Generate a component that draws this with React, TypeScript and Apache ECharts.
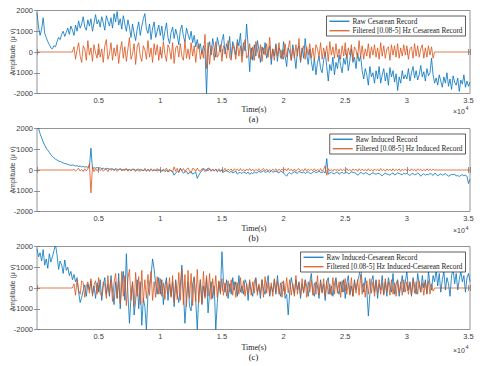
import React, { useEffect, useRef } from "react";
import * as echarts from "echarts";

// One plotted point every SAMPLE_STEP samples (x axis is in samples, shown ×10^4)
const SAMPLE_STEP = 125;
const X_MAX = 35120;
const X_INTERVAL = 5000;
const Y_MIN = -2000;
const Y_MAX = 2000;
const Y_INTERVAL = 1000;

const rawCesarean = [
  1900, 1200, 800, 1100, 1650, 900, 700, 500, 350, 200, 150, 300, 250, 500, 700, 600, 850, 1000, 750, 950,
  1150, 850, 1250, 1050, 800, 1300, 1000, 1500, 1150, 1350, 1700, 1200, 1050, 1550, 1250, 1600, 1000, 1400, 1800, 1350,
  1550, 1200, 1700, 1400, 1050, 1750, 1500, 1250, 1650, 1150, 1850, 1450, 1950, 1300, 1600, 1100, 1750, 1350, 1000, 1550,
  1200, 700, 1350, 900, 550, 1100, 1450, 800, 1250, 1600, 1850, 1100, 900, 1350, 600, 1150, 1450, 700, 1000, 1300,
  800, 1250, 550, 1000, 1400, 700, 400, 950, 1200, 650, 1100, 800, 350, 1050, 1300, 750, 500, 1150, 850, 600,
  1000, 450, 800, 250, 600, 150, 400, -100, 300, 50, -2000, 100, 500, -150, 650, 200, -250, 700, 350, 0,
  550, 850, -100, 400, 100, 750, -300, 500, 250, -150, 600, 300, 900, -200, 450, 50, 1350, 300, -950, 200,
  -400, 350, -200, 550, 100, -500, 250, -100, 450, -300, 0, 300, -600, 150, -200, 400, -450, 200, 50, -350,
  500, -200, -700, 200, 0, -400, 350, -150, -800, 100, 300, -500, 200, -300, 650, -100, -600, 150, -450, -900,
  -300, -1100, -500, -200, -800, -1000, -400, 0, -700, -1400, -600, -900, -250, -1100, -500, -800, -150, -650, -1000, -300,
  -600, -100, -900, -400, 150, -500, -250, -800, -50, -450, -200, -900, -1300, -800, -1100, -1600, -700, -1200, -1000, -1500,
  -900, -1300, -700, -1500, -1100, -800, -1400, -1000, -1600, -750, -1200, -900, -1450, -1050, -1850, -1200, -1500, -900, -1300, -1100,
  -1300, -800, -1400, -1000, -700, -1250, -900, -1350, -1100, -650, -1200, -950, -1400, -800, -1150, -1000, -300, -1100, -1500, -1250,
  -1600, -1100, -1400, -1700, -1200, -1500, -1000, -1650, -1300, -1800, -1150, -1450, -1600, -1250, -1900, -1350, -1550, -1100, -1700, -1400,
  -1650, -1450,
];

const filteredCesarean = [
  0, 0, 0, 0, 0, 0, 0, 0, 0, 0, 0, 0, 0, 0, 0, 0, 0, 0, 0, 0,
  0, 0, 0, 0, 250, -350, 100, 450, -200, -500, 300, 150, -400, 550, -150, 200, -450, 350, -50, -300,
  400, -250, 150, -500, 300, 600, -350, -100, 450, -400, 200, -200, 350, -550, 100, 500, -300, 250, -450, 150,
  700, -350, -100, 400, -600, 250, 450, -200, -450, 300, 100, -350, 550, -250, 200, -500, 400, -150, 350, -400,
  250, -300, 500, -100, -450, 350, 150, -350, 450, -550, 200, 300, -250, 400, -200, -400, 550, -300, 150, -350,
  450, -200, 300, -500, 250, 400, -350, 100, -300, 850, -800, 450, -600, 300, 200, -400, 500, -250, -100, 350,
  -450, 300, 200, -300, 550, -250, -400, 350, 100, -350, 450, -200, 300, -500, 200, 600, -300, -150, 400, -350,
  250, -400, 500, 100, -300, 350, -450, 200, -150, 400, -250, 700, -350, 150, -400, 300, -200, 450, -300, 100,
  -350, 400, -250, 200, 550, -400, 150, -300, 350, -200, 650, -450, 100, 300, -350, 250, -150, 400, -300, 200,
  -400, 350, 150, -250, 450, -350, 200, -200, 300, -450, 500, -150, 250, -300, 400, -250, 150, -350, 300, -200,
  450, -300, 200, -150, 350, -400, 250, 100, -300, 550, -250, 300, -350, 150, -200, 400, -300, 250, -150, 350,
  -250, 200, -350, 450, -200, 300, -300, 150, 250, -400, 350, -150, 300, -250, 400, -300, 200, -200, 350, -150,
  300, -350, 150, 250, -300, 400, -200, 300, -250, 150, 350, -300, 200, -250, 300, -150, 250, -300, 0, 0,
  0, 0, 0, 0, 0, 0, 0, 0, 0, 0, 0, 0, 0, 0, 0, 0, 0, 0, 0, 0,
  0, 0,
];

const rawInduced = [
  2300, 2000, 1750, 1550, 1350, 1200, 1050, 950, 850, 740, 650, 590, 520, 480, 430, 410, 380, 340, 310, 300,
  270, 250, 220, 240, 230, 190, 210, 170, 190, 150, 170, 140, 160, 130, 150, 1050, 60, 110, 90, 120,
  80, 110, 60, 90, 40, 80, 70, 30, 60, 50, 20, 60, 40, 10, 50, 30, -10, 40, 20, 0,
  30, -20, 20, 40, -10, 10, -40, 30, 0, -30, 20, -60, 10, -20, 30, -40, 0, -10, -50, 20,
  -20, -60, 0, -80, -30, -100, -40, -20, -80, -250, -150, -60, -100, 80, -50, -150, -100, -60, -200, -120,
  -80, -200, -150, -100, -400, -250, -120, -50, 80, 20, -50, 100, 40, -60, 20, -30, 40, -90, -20, -60,
  -20, -110, -50, -30, -80, -120, -60, -150, -100, -60, -200, -130, -120, -170, -90, -140, -170, -100, -210, -130,
  -180, -90, -140, -130, -60, -110, -80, -40, -110, -90, -50, -120, -30, -100, -80, -60, -100, -140, -50, -90,
  -150, -220, -300, -160, -120, -200, -140, -80, -130, -160, -60, -110, -140, -90, -170, -120, -90, -150, -170, -100,
  -70, -130, -90, -60, -110, -120, -80, -140, 550, -200, -150, -100, -170, -180, -120, -90, -200, -150, -110, -170,
  -140, -100, -180, -160, -80, -120, -130, -160, -250, -200, -110, -150, -190, -130, -150, -210, -230, -170, -130, -180,
  -200, -160, -170, -230, -280, -200, -150, -190, -220, -250, -180, -140, -240, -200, -140, -170, -200, -230, -160, -190,
  -160, -220, -260, -190, -170, -230, -210, -140, -190, -300, -220, -180, -250, -200, -230, -170, -200, -260, -160, -190,
  -280, -230, -190, -250, -210, -180, -240, -300, -260, -210, -230, -200, -290, -260, -320, -250, -230, -280, -250, -300,
  -650, -450,
];

const filteredInduced = [
  0, 0, 0, 0, 0, 0, 0, 0, 0, 0, 0, 0, 0, 0, 0, 0, 0, 0, 0, 0,
  0, 0, 0, 0, 40, -60, 20, 80, -50, 30, -70, 60, -40, 50, 300, -1100, 150, -80, 60, -40,
  50, -30, 70, -60, 20, 40, -80, 60, -20, 50, -40, 30, -70, 20, 60, -50, 40, -30, 80, -60,
  30, -50, 60, -20, -70, 40, 50, -60, 20, -40, 80, -30, 40, -70, 60, -20, 30, -50, 70, -40,
  20, -60, 50, -30, 90, -80, 40, -50, -100, 150, -60, 80, -120, 60, -40, 70, -80, 40, 100, -60,
  -150, 80, 50, -70, 90, -40, -60, 60, 40, -80, 30, -50, 70, -30, 50, -60, 40, -20, 60, -50,
  30, -40, 80, -60, 40, -30, 50, -70, 60, -20, 40, -50, 70, -40, 30, -60, 50, -30, 70, -50,
  40, -60, 30, -40, 60, -50, 20, 70, -40, 50, -60, 30, -50, 40, -30, 60, -70, 40, -20, 50,
  -40, 60, -50, 80, -30, 40, -60, 50, -70, 30, 60, -40, 20, -50, 70, -60, 40, -30, 50, -40,
  60, -50, 30, -40, 70, -60, 40, 200, -250, 60, -40, 30, -60, 50, -30, 40, -50, 60, -40, 30,
  -50, 70, -40, 30, -60, 50, -20, 40, -70, 60, -30, 50, -40, 30, -50, 60, -40, 20, -60, 50,
  -30, 40, -50, 70, -40, 30, -60, 50, -30, 40, -50, 60, -40, 30, -20, 50, -60, 40, -30, 50,
  -40, 30, -50, 60, -30, 40, -60, 50, -20, 40, -50, 30, -40, 60, -30, 40, -20, 30, 0, 0,
  0, 0, 0, 0, 0, 0, 0, 0, 0, 0, 0, 0, 0, 0, 0, 0, 0, 0, 0, 0,
  0, 0,
];

const rawInducedCesarean = [
  1900, 1500, 1700, 1300, 1850, 1100, 1400, 950, 1650, 1250, 1500, 1800, 2100, 1600, 900, 1300, 1100, 700, 1350, 850,
  1000, 600, 800, 400, 650, 300, 500, -200, -700, -450, -100, 150, -400, 200, -100, 350, -300, 100, -500, 250,
  -200, 400, -600, 100, 500, -300, 200, -400, 600, -100, -800, 300, -500, 700, -1000, 200, 800, -600, 1650, -300,
  -1700, -400, 300, -1300, -600, 400, -1000, 300, -1800, -500, -900, -2000, -300, 200, 600, 1400, 900, 200, -300, 500,
  -300, 400, -800, 100, 500, -600, 200, -400, 300, -900, 400, -300, -700, 100, 1100, -200, -1700, -500, 300, -900,
  -1100, 200, 500, -600, -2000, -300, 400, -800, 100, -400, 500, -1200, -200, 300, -500, 100, -2000, -700, 300, -200,
  1750, 300, -200, 400, -500, 200, -300, 500, -100, 300, -400, 600, -200, 100, -300, 400, 200, -600, 300, -100,
  -400, 300, 500, -200, 100, -500, 400, -100, -300, 200, 600, -400, 100, -200, 400, -300, 600, -100, -400, 300,
  200, -500, -300, -1300, -200, 500, 100, -300, 400, -100, 300, -500, 200, -200, 400, 100, -400, 300, 700, -200,
  -400, 300, 100, -500, 400, -200, 200, -600, 300, 500, -300, 100, -400, 200, 500, -100, -300, 300, -200, 400,
  -500, 200, 600, -300, 100, -400, 400, -100, 300, 600, 1000, 200, -200, 500, -100, -1350, -300, 300, 600, -200,
  400, -500, 200, -100, 600, -300, 300, -400, 500, 100, -200, 700, -300, 200, 400, -400, 100, 600, -200, 300,
  800, -100, 300, -400, 500, 100, -300, 700, 200, -200, 600, 0, 400, -300, 800, 200, -100, 600, 300, 900,
  100, 700, -200, 400, 800, -100, 500, 200, -400, 600, 900, 200, 700, -100, 400, 800, 300, 600, -200, 500,
  700, 300,
];

const filteredInducedCesarean = [
  0, 0, 0, 0, 0, 0, 0, 0, 0, 0, 0, 0, 0, 0, 0, 0, 0, 0, 0, 0,
  0, 0, 0, 0, 200, -350, 400, -100, -300, 350, 250, -450, 100, 300, -250, 450, -400, 150, 350, -300,
  500, -250, -400, 300, 150, -500, 600, -300, 400, -650, 250, 700, -500, 350, -750, 800, -400, 600, -850, 450,
  900, -600, 300, -900, 750, -400, 550, -800, 850, -700, 400, -500, 650, -350, 800, -600, 300, -450, 550, -300,
  450, -400, 250, -550, 350, -300, 500, -450, 600, -700, 300, -550, 750, -600, 900, -800, 650, -900, 850, -500,
  700, -850, 550, -650, 900, -700, 400, -750, 800, -500, 600, -400, 700, -550, 450, -350, 600, -450, 350, -300,
  450, -350, 250, -400, 350, -200, 400, -350, 300, -450, 250, -300, 500, -250, 350, -400, 200, -300, 400, -350,
  300, -250, 450, -350, 200, -300, 400, -450, 550, -250, 300, -350, 250, -400, 450, -200, 350, -300, 250, -450,
  350, -300, 500, -250, 400, -350, 200, -400, 600, -300, 250, -350, 450, -250, 350, -450, 300, -200, 400, -350,
  250, -300, 600, -350, 300, -250, 450, -400, 350, -300, 200, -350, 500, -300, 400, -250, 300, -450, 350, -200,
  450, -300, 250, -350, 500, -400, 300, -250, 400, -350, 650, -300, 250, -450, 350, -300, 450, -250, 300, -400,
  350, -250, 400, -300, 250, -350, 450, -200, 300, -350, 400, -300, 250, -400, 350, -250, 300, -350, 400, -200,
  300, -300, 250, -350, 400, -250, 300, -300, 350, -200, 250, -350, 300, -250, 350, -300, 200, -150, 0, 0,
  0, 0, 0, 0, 0, 0, 0, 0, 0, 0, 0, 0, 0, 0, 0, 0, 0, 0, 0, 0,
  0, 0,
];

const panels = [
  { raw: rawCesarean, filt: filteredCesarean, rawName: "Raw Cesarean Record", filtName: "Filtered [0.08-5] Hz Cesarean Record", tag: "(a)" },
  { raw: rawInduced, filt: filteredInduced, rawName: "Raw Induced Record", filtName: "Filtered [0.08-5] Hz Induced Record", tag: "(b)" },
  { raw: rawInducedCesarean, filt: filteredInducedCesarean, rawName: "Raw Induced-Cesarean Record", filtName: "Filtered [0.08-5] Hz Induced-Cesarean Record", tag: "(c)" },
];

const BLUE = "#0072BD";
const ORANGE = "#D95319";
const AXIS = "#7a7a7a";
const GRID_TOPS = [10.5, 128.5, 246.5];
const GRID_H = 83;
const TIME_Y = [109, 228.5, 347];
const TAG_Y = [118.5, 238, 357];
const EXP_Y = [110, 229.5, 349];
const SANS = "Liberation Sans, Arial, sans-serif";
const SERIF = "Liberation Serif, Times New Roman, serif";

const toPairs = (arr: number[]) => arr.map((v, i) => [i * SAMPLE_STEP, v]);

export default function App() {
  const ref = useRef<HTMLDivElement>(null);
  useEffect(() => {
    if (!ref.current) return;
    const chart = echarts.init(ref.current, null, { renderer: "svg" });
    const grid = GRID_TOPS.map((top) => ({
      left: 37, top, width: 433, height: GRID_H, show: true, containLabel: false,
      outerBoundsMode: "none",
      borderColor: AXIS, borderWidth: 0.8, backgroundColor: "transparent",
    }));
    const xAxis: any[] = [];
    const yAxis: any[] = [];
    [0, 1, 2].forEach((i) => {
      xAxis.push({
        type: "value", gridIndex: i, min: 0, max: X_MAX, interval: X_INTERVAL,
        axisLine: { show: false },
        axisTick: { show: true, inside: true, length: 3, lineStyle: { color: AXIS, width: 0.8 } },
        axisLabel: {
          formatter: (v: number) => (v === 0 || v % X_INTERVAL !== 0 ? "" : String(v / 10000)),
          fontSize: 7.5, color: "#404040", margin: 3, fontFamily: SANS,
        },
        splitLine: { show: false },
      });
      yAxis.push({
        type: "value", gridIndex: i, min: Y_MIN, max: Y_MAX, interval: Y_INTERVAL,
        axisLine: { show: false },
        axisTick: { show: true, inside: true, length: 3, lineStyle: { color: AXIS, width: 0.8 } },
        axisLabel: { fontSize: 7.5, color: "#404040", margin: 4, fontFamily: SANS, formatter: (v: number) => String(v) },
        splitLine: { show: false },
      });
    });
    [0, 1, 2].forEach((i) => {
      xAxis.push({
        type: "value", gridIndex: i, position: "top", min: 0, max: X_MAX, interval: X_INTERVAL,
        axisLine: { show: false }, axisLabel: { show: false }, splitLine: { show: false },
        axisTick: { show: true, inside: true, length: 3, lineStyle: { color: AXIS, width: 0.8 } },
      });
      yAxis.push({
        type: "value", gridIndex: i, position: "right", min: Y_MIN, max: Y_MAX, interval: Y_INTERVAL,
        axisLine: { show: false }, axisLabel: { show: false }, splitLine: { show: false },
        axisTick: { show: true, inside: true, length: 3, lineStyle: { color: AXIS, width: 0.8 } },
      });
    });
    const series: any[] = [];
    panels.forEach((p, i) => {
      series.push({
        type: "line", name: p.rawName, xAxisIndex: i, yAxisIndex: i, data: toPairs(p.raw),
        showSymbol: false, symbol: "none", color: BLUE, lineStyle: { width: 0.8, color: BLUE },
        clip: true, silent: true,
      });
      series.push({
        type: "line", name: p.filtName, xAxisIndex: i, yAxisIndex: i, data: toPairs(p.filt),
        showSymbol: false, symbol: "none", color: ORANGE, lineStyle: { width: 0.8, color: ORANGE },
        clip: true, silent: true,
      });
    });
    const legend = panels.map((p, i) => ({
      data: [p.rawName, p.filtName], orient: "vertical", right: 14.5, top: GRID_TOPS[i] + 5.5,
      icon: "rect", itemWidth: 20, itemHeight: 1.2, itemGap: 0,
      padding: [0.5, 3, 0.5, 3], backgroundColor: "#fff",
      borderColor: "#333", borderWidth: 0.8,
      textStyle: { fontSize: 7.3, lineHeight: 9.5, fontFamily: SERIF, color: "#222", padding: [0, 0, 0, -2] },
    }));
    const graphic: any[] = [];
    panels.forEach((p, i) => {
      graphic.push({
        type: "text", x: 12, y: GRID_TOPS[i] + GRID_H / 2, rotation: Math.PI / 2,
        style: { text: "Amplitude (μ v)", fontSize: 7, fontFamily: SANS, fill: "#404040", align: "center", verticalAlign: "middle" },
      });
      graphic.push({ type: "text", x: 254, y: TIME_Y[i], style: { text: "Time(s)", fontSize: 8, fontFamily: SERIF, fill: "#222", align: "center", verticalAlign: "middle" } });
      graphic.push({ type: "text", x: 253.5, y: TAG_Y[i], style: { text: p.tag, fontSize: 8.5, fontFamily: SERIF, fill: "#111", align: "center", verticalAlign: "middle" } });
      graphic.push({ type: "text", x: 453, y: EXP_Y[i] + 1, style: { text: "×10", fontSize: 7, fontFamily: SANS, fill: "#404040", align: "left", verticalAlign: "middle" } });
      graphic.push({ type: "text", x: 465.5, y: EXP_Y[i] - 2, style: { text: "4", fontSize: 5.5, fontFamily: SANS, fill: "#404040", align: "left", verticalAlign: "middle" } });
    });
    chart.setOption({
      animation: false,
      backgroundColor: "#fff",
      grid, xAxis, yAxis, series, legend, graphic,
    });
    return () => chart.dispose();
  }, []);
  return <div ref={ref} style={{ position: "absolute", left: 0, top: 0, width: 480, height: 366 }} />;
}
